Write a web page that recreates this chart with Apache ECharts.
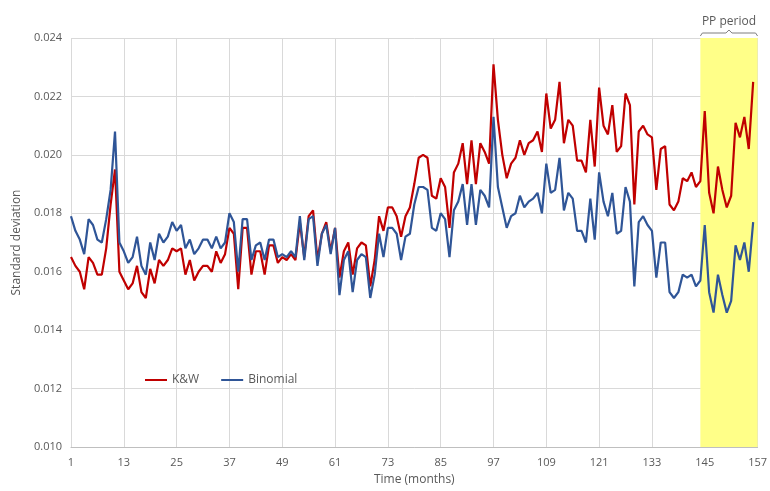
<!DOCTYPE html>
<html>
<head>
<meta charset="utf-8">
<script src="https://cdn.jsdelivr.net/npm/echarts@6/dist/echarts.min.js"></script>
<style>html,body{margin:0;padding:0;background:#fff}#c{width:770px;height:491px}</style>
</head>
<body>
<div id="c"></div>
<script>
// Months 1..157 (categories)
const months = Array.from({length: 157}, (_, i) => String(i + 1));
const yTicks = [0.010, 0.012, 0.014, 0.016, 0.018, 0.020, 0.022, 0.024];

// K&W standard deviation, months 1..156
const kw = [
0.0165,0.0162,0.0160,0.0154,0.0165,0.0163,0.0159,0.0159,0.0168,0.0183,0.0195,0.0160,
0.0157,0.0154,0.0156,0.0162,0.0153,0.0151,0.0161,0.0156,0.0164,0.0162,0.0164,0.0168,0.0167,0.0168,
0.0159,0.0164,0.0157,0.0160,0.0162,0.0162,0.0160,0.0167,0.0163,0.0166,0.0175,0.0173,0.0154,0.0175,0.0175,0.0159,0.0167,0.0167,0.0159,0.0169,0.0169,0.0163,0.0165,0.0164,0.0166,0.0164,0.0177,
0.0165,0.0179,0.0181,0.0164,0.0173,0.0177,0.0167,0.0175,0.0158,0.0167,0.0170,0.0159,0.0168,0.0170,0.0169,0.0155,0.0164,0.0179,0.0174,0.0182,0.0182,0.0179,0.0172,0.0179,0.0182,0.0190,
0.0199,0.0200,0.0199,0.0186,0.0185,0.0192,0.0189,0.0175,0.0194,0.0197,0.0204,0.0190,0.0205,0.0190,0.0204,0.0201,0.0197,0.0231,0.0212,0.0200,0.0192,0.0197,0.0199,0.0205,0.0200,
0.0204,0.0205,0.0208,0.0201,0.0221,0.0209,0.0212,0.0225,0.0204,0.0212,0.0210,0.0198,0.0198,0.0194,0.0212,0.0196,0.0223,0.0210,0.0207,0.0217,0.0201,0.0203,0.0221,0.0217,0.0183,0.0208,
0.0210,0.0207,0.0206,0.0188,0.0202,0.0203,0.0183,0.0181,0.0184,0.0192,0.0191,0.0194,0.0189,0.0191,0.0215,0.0187,0.0180,0.0196,0.0188,0.0182,0.0186,0.0211,0.0206,0.0213,0.0202,0.0225
];

// Binomial standard deviation, months 1..156
const binomial = [
0.0179,0.0174,0.0171,0.0166,0.0178,0.0176,0.0171,0.0170,0.0178,0.0188,0.0208,0.0170,
0.0167,0.0163,0.0165,0.0172,0.0162,0.0159,0.0170,0.0164,0.0173,0.0170,0.0172,0.0177,0.0174,0.0176,
0.0168,0.0171,0.0166,0.0168,0.0171,0.0171,0.0168,0.0172,0.0168,0.0170,0.0180,0.0177,0.0160,0.0178,0.0178,0.0164,0.0169,0.0170,0.0164,0.0171,0.0171,0.0165,0.0166,0.0165,0.0167,0.0165,0.0179,
0.0164,0.0178,0.0179,0.0162,0.0173,0.0176,0.0166,0.0175,0.0152,0.0164,0.0167,0.0153,0.0164,0.0166,0.0165,0.0151,0.0159,0.0173,0.0165,0.0175,0.0175,0.0173,0.0164,0.0172,0.0173,0.0183,
0.0189,0.0189,0.0188,0.0175,0.0174,0.0180,0.0178,0.0165,0.0181,0.0184,0.0190,0.0176,0.0190,0.0176,0.0188,0.0186,0.0182,0.0213,0.0189,0.0182,0.0175,0.0179,0.0180,0.0186,0.0182,
0.0184,0.0185,0.0187,0.0180,0.0197,0.0187,0.0188,0.0199,0.0181,0.0187,0.0185,0.0174,0.0174,0.0170,0.0185,0.0171,0.0194,0.0184,0.0179,0.0187,0.0173,0.0174,0.0189,0.0184,0.0155,0.0177,
0.0179,0.0176,0.0174,0.0158,0.0170,0.0170,0.0153,0.0151,0.0153,0.0159,0.0158,0.0159,0.0155,0.0157,0.0176,0.0153,0.0146,0.0159,0.0152,0.0146,0.0150,0.0169,0.0164,0.0170,0.0160,0.0177
];

// PP period (category index range)
const ppStart = 142.5, ppEnd = 156;

const FONT = '"Open Sans", "Liberation Sans", sans-serif';
const TXT = '#595959';
const chart = echarts.init(document.getElementById('c'), null, {renderer: 'canvas'});
chart.setOption({
  animation: false,
  backgroundColor: '#fff',
  textStyle: {fontFamily: FONT},
  grid: {left: 71, right: 9, top: 38, bottom: 42, containLabel: false},
  legend: {
    left: 140, top: 369,
    itemWidth: 22, itemHeight: 2, itemGap: 22,
    icon: 'rect',
    textStyle: {color: TXT, fontSize: 12, fontFamily: FONT},
    data: ['K&W', 'Binomial']
  },
  xAxis: {
    type: 'category', data: months, boundaryGap: false,
    name: 'Time (months)', nameLocation: 'middle', nameGap: 27,
    nameTextStyle: {color: TXT, fontSize: 12, fontFamily: FONT},
    axisLine: {lineStyle: {color: '#BFBFBF'}},
    axisTick: {show: false},
    axisLabel: {interval: 11, color: TXT, fontSize: 11, margin: 10, fontFamily: FONT},
    splitLine: {show: true, interval: 11, lineStyle: {color: '#D9D9D9'}}
  },
  yAxis: {
    type: 'value', min: yTicks[0], max: yTicks[yTicks.length - 1], interval: 0.002,
    name: 'Standard deviation', nameLocation: 'middle', nameGap: 47, nameRotate: 90,
    nameTextStyle: {color: TXT, fontSize: 12, fontFamily: FONT},
    axisLine: {show: false}, axisTick: {show: false},
    axisLabel: {color: TXT, fontSize: 11, margin: 9, fontFamily: FONT, formatter: v => v.toFixed(3)},
    splitLine: {lineStyle: {color: '#D9D9D9'}}
  },
  series: [
    {
      name: 'band', type: 'line', data: [], z: 1, silent: true,
      markArea: {silent: true, itemStyle: {color: '#FFFF88'}, data: [[{xAxis: ppStart}, {xAxis: ppEnd}]]}
    },
    {name: 'K&W', type: 'line', data: kw, symbol: 'none', z: 3,
     lineStyle: {color: '#C00000', width: 2.2}, itemStyle: {color: '#C00000'}},
    {name: 'Binomial', type: 'line', data: binomial, symbol: 'none', z: 4,
     lineStyle: {color: '#2F5597', width: 2.2}, itemStyle: {color: '#2F5597'}}
  ]
});

// PP period brace and label
const p0 = chart.convertToPixel({gridIndex: 0}, [ppStart, 0.024]);
const p1 = chart.convertToPixel({gridIndex: 0}, [ppEnd, 0.024]);
const x0 = p0[0], x1 = p1[0], xm = (x0 + x1) / 2, yb = p0[1] - 2;
chart.setOption({
  graphic: [
    {type: 'polyline', silent: true,
     shape: {points: [[x0, yb], [x0 + 2, yb - 3], [xm - 3, yb - 3], [xm, yb - 6], [xm + 3, yb - 3], [x1 - 2, yb - 3], [x1, yb]]},
     style: {stroke: '#7F7F7F', lineWidth: 1, fill: null}},
    {type: 'text', silent: true, x: xm, y: yb - 8,
     style: {text: 'PP period', fill: TXT, fontSize: 12, fontFamily: FONT, align: 'center', verticalAlign: 'bottom'}}
  ]
});
</script>
</body>
</html>
